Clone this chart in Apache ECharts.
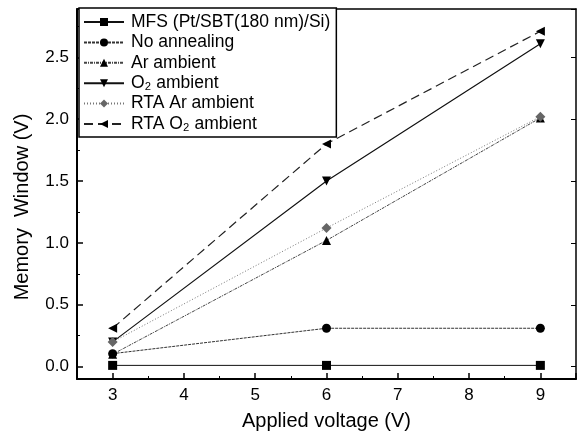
<!DOCTYPE html>
<html><head><meta charset="utf-8">
<script src="https://cdn.jsdelivr.net/npm/echarts@6/dist/echarts.min.js"></script>
<style>html,body{margin:0;padding:0;background:#fff}#c{width:581px;height:436px}</style>
</head><body><div id="c"></div>
<script>
const xValues = [3, 6, 9];
const seriesNames = ['MFS (Pt/SBT(180 nm)/Si)', 'No annealing', 'Ar ambient', 'O₂ ambient', 'RTA Ar ambient', 'RTA O₂ ambient'];
const mfs = [0.01, 0.01, 0.01];
const noAnnealing = [0.105, 0.31, 0.31];
const arAmbient = [0.1, 1.02, 2.01];
const o2Ambient = [0.2, 1.5, 2.61];
const rtaAr = [0.2, 1.12, 2.02];
const rtaO2 = [0.31, 1.8, 2.71];
const xTicks = [3, 4, 5, 6, 7, 8, 9];
const yTicks = [0.0, 0.5, 1.0, 1.5, 2.0, 2.5];

const font = 'Liberation Sans, Arial, sans-serif';
function pts(v){ return xValues.map((x,i)=>[x, v[i]]); }
function mk(name, data, symbol, rot, color, lineColor, ltype, lw){
  return {name, type:'line', data:pts(data), symbol, symbolSize: symbol==='diamond'?10:9, symbolRotate: rot,
    itemStyle:{color}, lineStyle:{color:lineColor, type:ltype, width:lw}, z: 3};
}
const chart = echarts.init(document.getElementById('c'));
chart.setOption({
  animation:false,
  backgroundColor:'#fff',
  textStyle:{fontFamily:font},
  grid:{left:77, right:5, top:9, bottom:57, containLabel:false, outerBoundsMode:'none'},
  legend:{orient:'vertical', left:79, top:8, padding:[5,6,4,4], itemGap:2.4, itemWidth:40, itemHeight:10,
    borderColor:'#000', borderWidth:1.5, backgroundColor:'#fff',
    textStyle:{fontSize:17.5, color:'#000', fontFamily:font, padding:[0,0,0,2]},
    data: seriesNames},
  xAxis:[{type:'value', min:2.5, max:9.5, splitNumber:7, position:'bottom',
    axisLine:{onZero:false, lineStyle:{color:'#000', width:2}},
    axisTick:{inside:true, length:6, lineStyle:{color:'#000', width:1.5}},
    minorTick:{show:true, splitNumber:2, length:3, lineStyle:{color:'#000'}},
    axisLabel:{fontSize:17, color:'#000', margin:8, fontFamily:font, showMinLabel:false, showMaxLabel:false,
      formatter:v=> xTicks.includes(v)? String(v):''},
    splitLine:{show:false},
    name:'Applied voltage (V)', nameLocation:'middle', nameGap:32,
    nameTextStyle:{fontSize:20, color:'#000', fontFamily:font}},
   {type:'value', min:2.5, max:9.5, splitNumber:7, position:'top',
    axisLine:{onZero:false, lineStyle:{color:'#000', width:1.5}},
    axisTick:{show:false}, axisLabel:{show:false}, splitLine:{show:false}}],
  yAxis:[{type:'value', min:-0.1, max:2.89, splitNumber:6,
    axisLine:{onZero:false, show:true, lineStyle:{color:'#000', width:2}},
    axisTick:{inside:true, length:6, lineStyle:{color:'#000', width:1.5}},
    minorTick:{show:true, splitNumber:2, length:3, lineStyle:{color:'#000'}},
    axisLabel:{fontSize:17, color:'#000', margin:8, fontFamily:font, showMinLabel:false, showMaxLabel:false,
      formatter:v=>{ const t = yTicks.find(y=>Math.abs(y-v)<1e-6); return t===undefined? '' : t.toFixed(1);} },
    splitLine:{show:false},
    name:'Memory  Window (V)', nameLocation:'middle', nameGap:45,
    nameTextStyle:{fontSize:20, color:'#000', fontFamily:font, padding:[0,26,0,0]}},
   {type:'value', min:-0.1, max:2.89, splitNumber:6, position:'right',
    axisLine:{onZero:false, show:true, lineStyle:{color:'#000', width:1.5}},
    axisTick:{inside:true, length:5, lineStyle:{color:'#000'}},
    axisLabel:{show:false}, splitLine:{show:false}}],
  series:[
    mk(seriesNames[0], mfs, 'rect', 0, '#000', '#111', 'solid', 1),
    mk(seriesNames[1], noAnnealing, 'circle', 0, '#000', '#333', [3,1], 1),
    mk(seriesNames[2], arAmbient, 'triangle', 0, '#000', '#444', [3,1,1,1], 1),
    mk(seriesNames[3], o2Ambient, 'triangle', 180, '#000', '#111', 'solid', 1.2),
    mk(seriesNames[4], rtaAr, 'diamond', 0, '#666', '#777', [1,2], 1),
    mk(seriesNames[5], rtaO2, 'triangle', 90, '#000', '#222', [9,5], 1.2)
  ]
});
</script></body></html>
